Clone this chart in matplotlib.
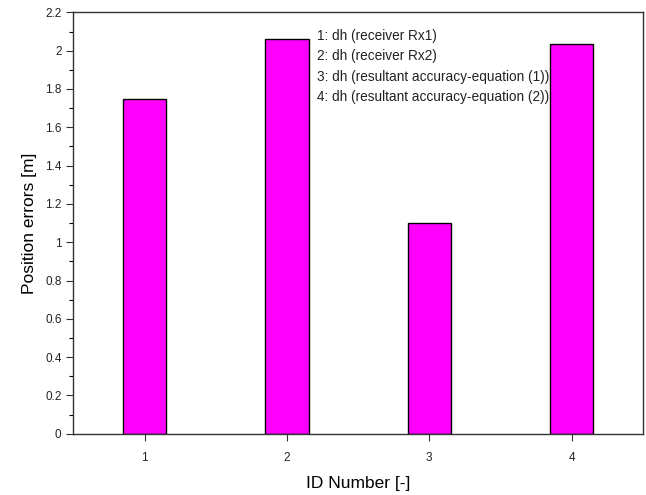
import matplotlib
matplotlib.use('Agg')
import matplotlib.pyplot as plt
from matplotlib.ticker import MultipleLocator, FuncFormatter

plt.rcParams['font.family'] = ['Liberation Sans', 'DejaVu Sans']

ids = [1, 2, 3, 4]
errors = [1.748, 2.061, 1.102, 2.037]
legend_lines = [
    "1: dh (receiver Rx1)",
    "2: dh (receiver Rx2)",
    "3: dh (resultant accuracy-equation (1))",
    "4: dh (resultant accuracy-equation (2))",
]

fig = plt.figure(figsize=(6.46, 4.95), dpi=100)
ax = fig.add_axes([0.1135, 0.1238, 0.8815, 0.8512])

ax.bar(ids, errors, width=0.305, color='#FF00FF', edgecolor='black', linewidth=1.0)

ax.set_xlim(0.5, 4.5)
ax.set_ylim(0, 2.2)
ax.set_xticks(ids)
ax.yaxis.set_major_locator(MultipleLocator(0.2))
ax.yaxis.set_minor_locator(MultipleLocator(0.1))
ax.yaxis.set_major_formatter(FuncFormatter(lambda v, p: f"{round(v, 1):g}"))
ax.tick_params(axis='both', direction='out', labelsize=8.5, colors='#333333',
               labelcolor='#222222', top=False, right=False)
ax.tick_params(axis='y', which='major', length=5, width=0.8)
ax.tick_params(axis='y', which='minor', length=3, width=0.8)
ax.tick_params(axis='x', which='major', length=5, width=0.8, pad=8)
for sp in ax.spines.values():
    sp.set_color('#333333')
    sp.set_linewidth(1.0)

ax.set_xlabel("ID Number [-]", fontsize=12.5, labelpad=9)
ax.set_ylabel("Position errors [m]", fontsize=12.5, labelpad=6)

# annotation block in the upper middle of the plot
for i, line in enumerate(legend_lines):
    ax.text(316.7 / 646, 1 - (36 + 20.3 * i) / 495, line, transform=fig.transFigure,
            fontsize=9.8, va='center', ha='left', color='#222222')

fig.savefig('out.png', dpi=100)
